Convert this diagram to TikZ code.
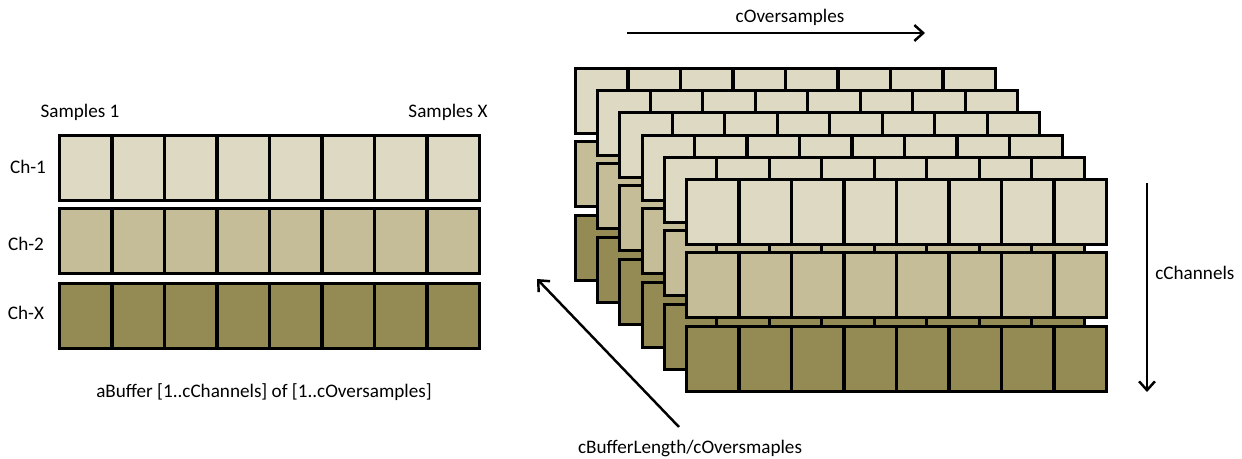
\documentclass[tikz,border=0pt]{standalone}
\usepackage{fontspec}
\setmainfont{Carlito}
\usetikzlibrary{arrows.meta,calc}
\definecolor{tanlight}{HTML}{DDD9C3}
\definecolor{tanmid}{HTML}{C4BD97}
\definecolor{tandark}{HTML}{948A54}
\tikzset{
  cellrow/.style={draw,line width=1.7pt,inner sep=0pt,minimum width=8.4cm,minimum height=1.3cm,anchor=north west,
    path picture={\foreach \i in {1,...,7}
      \draw[line width=1.8pt] ($(path picture bounding box.south west)!\i/8!(path picture bounding box.south east)$)
        -- ($(path picture bounding box.north west)!\i/8!(path picture bounding box.north east)$);}},
  dimarrow/.style={line width=1.4pt,-{Straight Barb[length=5pt,width=9pt]}},
  lbl/.style={font=\fontsize{10.9}{13}\selectfont,inner sep=0pt}
}
\begin{document}
\begin{tikzpicture}[x=0.02cm,y=-0.02cm]
  \useasboundingbox (0,0) rectangle (1242,459);
  % single buffer, one row per channel
  \node[cellrow,fill=tanlight] (ch1) at (58,134) {};
  \node[cellrow,fill=tanmid] (ch2) at (58,207) {};
  \node[cellrow,fill=tandark] (chX) at (58,282) {};
  \node[lbl] (s1) at (80,112) {Samples 1};
  \node[lbl] (sX) at (448,112) {Samples X};
  \node[lbl] (c1) at (28,167) {Ch-1};
  \node[lbl] (c2) at (26,244) {Ch-2};
  \node[lbl] (cX) at (26,313) {Ch-X};
  \node[lbl] (abuf) at (264,392) {aBuffer [1..cChannels] of [1..cOversamples]};
  % stacked buffers, back to front
  \foreach \k in {0,...,5}
    \foreach \r/\c/\dy in {1/tanlight/0,2/tanmid/73,3/tandark/147}
      \node[cellrow,fill=\c] (L\k-\r) at ({574+22.2*\k},{67+22.2*\k+\dy}) {};
  % dimensions
  \coordinate (os-a) at (627,33); \coordinate (os-b) at (925,33);
  \draw[dimarrow] (os-a) -- (os-b);
  \node[lbl] (os) at (790,17) {cOversamples};
  \coordinate (ch-a) at (1147,183); \coordinate (ch-b) at (1147,392);
  \draw[dimarrow] (ch-a) -- (ch-b);
  \node[lbl,anchor=west] (chn) at (1155,273) {cChannels};
  \coordinate (bl-a) at (679,427); \coordinate (bl-b) at (537,279);
  \draw[dimarrow] (bl-a) -- (bl-b);
  \node[lbl] (bl) at (690,448) {cBufferLength/cOversmaples};
\end{tikzpicture}
\end{document}
